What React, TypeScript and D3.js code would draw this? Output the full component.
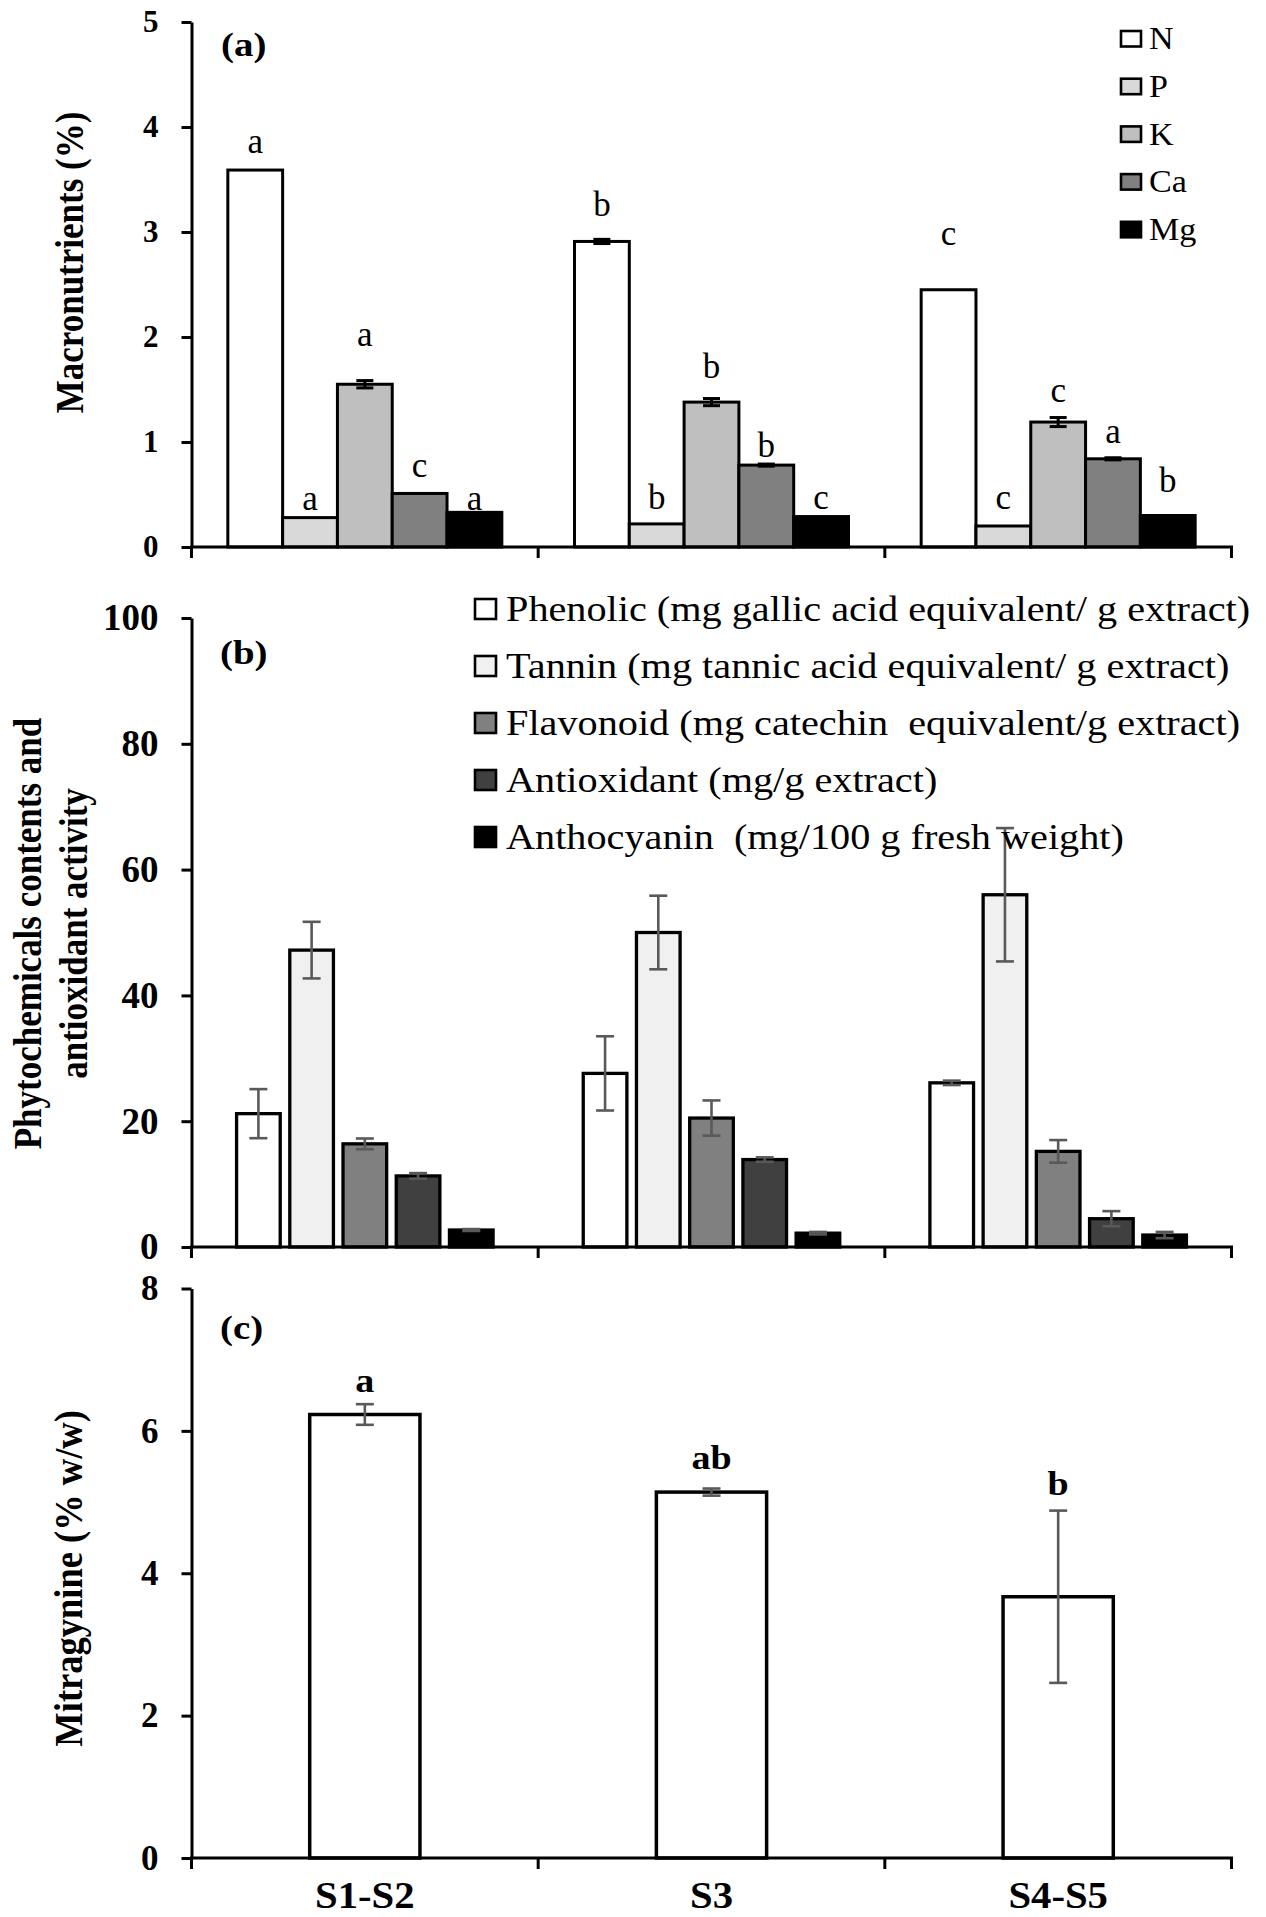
import React, { useRef, useEffect } from "react";
import * as d3 from "d3";

const categories = ["S1-S2", "S3", "S4-S5"];

// (a) macronutrients (%)
const nutrientNames = ["N", "P", "K", "Ca", "Mg"];
const nValues = [3.59, 2.91, 2.45];
const pValues = [0.28, 0.22, 0.2];
const kValues = [1.55, 1.38, 1.19];
const caValues = [0.51, 0.78, 0.84];
const mgValues = [0.33, 0.29, 0.3];
const nErrors = [0, 0.02, 0];
const pErrors = [0, 0, 0];
const kErrors = [0.035, 0.034, 0.043];
const caErrors = [0, 0.01, 0.01];
const mgErrors = [0, 0, 0];
const nLetters = ["a", "b", "c"];
const pLetters = ["a", "b", "c"];
const kLetters = ["a", "b", "c"];
const caLetters = ["c", "b", "a"];
const mgLetters = ["a", "c", "b"];
// height (in %) where each letter sits
const nLetterAt = [3.75, 3.15, 2.88];
const pLetterAt = [0.35, 0.36, 0.36];
const kLetterAt = [1.91, 1.61, 1.38];
const caLetterAt = [0.67, 0.86, 0.99];
const mgLetterAt = [0.35, 0.36, 0.52];
const macroTicks = [0, 1, 2, 3, 4, 5];

// (b) phytochemicals and antioxidant activity
const phytoNames = [
  "Phenolic (mg gallic acid equivalent/ g extract)",
  "Tannin (mg tannic acid equivalent/ g extract)",
  "Flavonoid (mg catechin  equivalent/g extract)",
  "Antioxidant (mg/g extract)",
  "Anthocyanin  (mg/100 g fresh weight)",
];
const phenolicValues = [21.2, 27.6, 26.1];
const tanninValues = [47.2, 50.0, 56.0];
const flavonoidValues = [16.4, 20.5, 15.2];
const antioxidantValues = [11.3, 13.9, 4.5];
const anthocyaninValues = [2.7, 2.2, 1.9];
const phenolicErrors = [3.9, 5.9, 0.35];
const tanninErrors = [4.5, 5.85, 10.6];
const flavonoidErrors = [0.85, 2.8, 1.8];
const antioxidantErrors = [0.45, 0.35, 1.2];
const anthocyaninErrors = [0.15, 0.2, 0.5];
const phytoTicks = [0, 20, 40, 60, 80, 100];

// (c) mitragynine (% w/w)
const mitragynineValues = [6.23, 5.14, 3.67];
const mitragynineErrors = [0.145, 0.05, 1.21];
const mitragynineLetters = ["a", "ab", "b"];
const mitragynineLetterAt = [6.55, 5.46, 5.1];
const mitraTicks = [0, 2, 4, 6, 8];

const FONT = "'Liberation Serif', 'Times New Roman', Times, serif";

function App() {
  const ref = useRef<SVGSVGElement | null>(null);

  useEffect(() => {
    const svg = d3.select(ref.current);
    svg.selectAll("*").remove();

    const xLeft = 191.5;
    const xRight = 1231.5;
    const xCat = d3.scaleBand().domain(categories).range([xLeft, xRight]).padding(0);
    const bw = xCat.bandwidth();

    // text helper, sx stretches glyphs horizontally like the source figure
    const addText = (
      x: number,
      y: number,
      str: string,
      size: number,
      opts: { bold?: boolean; sx?: number; anchor?: string; rotate?: number } = {}
    ) => {
      let tf = `translate(${x},${y}) scale(${opts.sx ?? 1},1)`;
      if (opts.rotate) tf += ` rotate(${opts.rotate})`;
      return svg
        .append("text")
        .attr("transform", tf)
        .attr("font-family", FONT)
        .attr("font-size", size)
        .attr("font-weight", opts.bold ? "bold" : "normal")
        .attr("text-anchor", opts.anchor ?? "start")
        .attr("fill", "#000")
        .style("white-space", "pre")
        .text(str);
    };

    const drawAxes = (y: d3.ScaleLinear<number, number>, ticks: number[], tickFont: number) => {
      const g = svg.append("g").attr("transform", `translate(${xLeft},0)`);
      g.call(
        d3.axisLeft(y).tickValues(ticks).tickSize(10).tickSizeOuter(0).tickPadding(23).tickFormat(d3.format("d"))
      );
      g.select(".domain").attr("stroke", "#000").attr("stroke-width", 3);
      g.selectAll(".tick line").attr("stroke", "#000").attr("stroke-width", 3);
      g.selectAll(".tick text")
        .attr("font-family", FONT)
        .attr("font-size", tickFont)
        .attr("font-weight", "bold")
        .attr("fill", "#000");

      const y0 = y(0);
      svg
        .append("line")
        .attr("x1", xLeft - 1.5)
        .attr("x2", xRight + 1.5)
        .attr("y1", y0)
        .attr("y2", y0)
        .attr("stroke", "#000")
        .attr("stroke-width", 3);
      const bounds = [...categories.map((c) => xCat(c) as number), xRight];
      svg
        .selectAll(null)
        .data(bounds)
        .enter()
        .append("line")
        .attr("x1", (d) => d)
        .attr("x2", (d) => d)
        .attr("y1", y0)
        .attr("y2", y0 + 11)
        .attr("stroke", "#000")
        .attr("stroke-width", 3);
    };

    const drawErrors = (
      cx: number,
      v: number,
      e: number,
      y: d3.ScaleLinear<number, number>,
      color: string,
      width: number,
      cap: number
    ) => {
      if (!e) return;
      const g = svg.append("g").attr("stroke", color).attr("stroke-width", width);
      g.append("line").attr("x1", cx).attr("x2", cx).attr("y1", y(v - e)).attr("y2", y(v + e));
      [v - e, v + e].forEach((t) => {
        g.append("line")
          .attr("x1", cx - cap)
          .attr("x2", cx + cap)
          .attr("y1", y(t))
          .attr("y2", y(t));
      });
    };

    // ---------- (a) ----------
    const yA = d3.scaleLinear().domain([0, 5]).range([547, 22]);
    const xA = d3.scaleBand().domain(nutrientNames).range([0, bw]).paddingInner(0).paddingOuter(0.663);
    const nutrientSeries = [
      { values: nValues, errors: nErrors, letters: nLetters, at: nLetterAt, fill: "#ffffff" },
      { values: pValues, errors: pErrors, letters: pLetters, at: pLetterAt, fill: "#d9d9d9" },
      { values: kValues, errors: kErrors, letters: kLetters, at: kLetterAt, fill: "#bfbfbf" },
      { values: caValues, errors: caErrors, letters: caLetters, at: caLetterAt, fill: "#808080" },
      { values: mgValues, errors: mgErrors, letters: mgLetters, at: mgLetterAt, fill: "#000000" },
    ];
    nutrientSeries.forEach((s, si) => {
      categories.forEach((c, ci) => {
        const x = (xCat(c) as number) + (xA(nutrientNames[si]) as number);
        svg
          .append("rect")
          .attr("x", x)
          .attr("y", yA(s.values[ci]))
          .attr("width", xA.bandwidth())
          .attr("height", yA(0) - yA(s.values[ci]))
          .attr("fill", s.fill)
          .attr("stroke", "#000")
          .attr("stroke-width", 3);
      });
    });
    nutrientSeries.forEach((s, si) => {
      categories.forEach((c, ci) => {
        const cx = (xCat(c) as number) + (xA(nutrientNames[si]) as number) + xA.bandwidth() / 2;
        drawErrors(cx, s.values[ci], s.errors[ci], yA, "#000", 3, 8.5);
        addText(cx, yA(s.at[ci]), s.letters[ci], 35, { anchor: "middle" });
      });
    });
    drawAxes(yA, macroTicks, 31);
    addText(221, 56, "(a)", 33, { bold: true, sx: 1.18 });
    addText(83, 262.5, "Macronutrients (%)", 35, { bold: true, sx: 1.15, anchor: "middle", rotate: -90 });

    // legend (a)
    nutrientSeries.forEach((s, i) => {
      const base = 49.3 + i * 47.7;
      svg
        .append("rect")
        .attr("x", 1121)
        .attr("y", base - 18.3)
        .attr("width", 20)
        .attr("height", 15.5)
        .attr("fill", s.fill)
        .attr("stroke", "#000")
        .attr("stroke-width", 2.6);
      addText(1149, base, nutrientNames[i], 31, { sx: 1.1 });
    });

    // ---------- (b) ----------
    const yB = d3.scaleLinear().domain([0, 100]).range([1247, 618]);
    const xB = d3.scaleBand().domain(phytoNames).range([0, bw]).paddingInner(0.18).paddingOuter(0.847);
    const phytoSeries = [
      { values: phenolicValues, errors: phenolicErrors, fill: "#ffffff" },
      { values: tanninValues, errors: tanninErrors, fill: "#f0f0f0" },
      { values: flavonoidValues, errors: flavonoidErrors, fill: "#808080" },
      { values: antioxidantValues, errors: antioxidantErrors, fill: "#404040" },
      { values: anthocyaninValues, errors: anthocyaninErrors, fill: "#000000" },
    ];
    phytoSeries.forEach((s, si) => {
      categories.forEach((c, ci) => {
        const x = (xCat(c) as number) + (xB(phytoNames[si]) as number);
        svg
          .append("rect")
          .attr("x", x)
          .attr("y", yB(s.values[ci]))
          .attr("width", xB.bandwidth())
          .attr("height", yB(0) - yB(s.values[ci]))
          .attr("fill", s.fill)
          .attr("stroke", "#000")
          .attr("stroke-width", 3.3);
      });
    });
    phytoSeries.forEach((s, si) => {
      categories.forEach((c, ci) => {
        const cx = (xCat(c) as number) + (xB(phytoNames[si]) as number) + xB.bandwidth() / 2;
        drawErrors(cx, s.values[ci], s.errors[ci], yB, "#595959", 2.6, 9);
      });
    });
    drawAxes(yB, phytoTicks, 37);
    addText(220, 664, "(b)", 33, { bold: true, sx: 1.18 });
    addText(41, 933.5, "Phytochemicals contents and", 35, { bold: true, sx: 1.15, anchor: "middle", rotate: -90 });
    addText(87, 933.5, "antioxidant activity", 35, { bold: true, sx: 1.15, anchor: "middle", rotate: -90 });

    // legend (b)
    phytoSeries.forEach((s, i) => {
      const base = 621 + i * 57;
      svg
        .append("rect")
        .attr("x", 475)
        .attr("y", base - 22)
        .attr("width", 21)
        .attr("height", 20)
        .attr("fill", s.fill)
        .attr("stroke", "#000")
        .attr("stroke-width", 2.6);
      addText(506, base, phytoNames[i], 35, { sx: 1.15 });
    });

    // ---------- (c) ----------
    const yC = d3.scaleLinear().domain([0, 8]).range([1858, 1288.5]);
    const barW = bw * 0.318;
    categories.forEach((c, ci) => {
      const cx = (xCat(c) as number) + bw / 2;
      svg
        .append("rect")
        .attr("x", cx - barW / 2)
        .attr("y", yC(mitragynineValues[ci]))
        .attr("width", barW)
        .attr("height", yC(0) - yC(mitragynineValues[ci]))
        .attr("fill", "#fff")
        .attr("stroke", "#000")
        .attr("stroke-width", 3.5);
    });
    categories.forEach((c, ci) => {
      const cx = (xCat(c) as number) + bw / 2;
      drawErrors(cx, mitragynineValues[ci], mitragynineErrors[ci], yC, "#595959", 2.6, 9);
      addText(cx, yC(mitragynineLetterAt[ci]), mitragynineLetters[ci], 34, { bold: true, sx: 1.12, anchor: "middle" });
      addText(cx, 1908, c, 37, { bold: true, sx: 1.1, anchor: "middle" });
    });
    drawAxes(yC, mitraTicks, 35);
    addText(220, 1339, "(c)", 33, { bold: true, sx: 1.18 });
    addText(81.6, 1578.4, "Mitragynine (% w/w)", 36.5, { bold: true, sx: 1.12, anchor: "middle", rotate: -90 });
  }, []);

  return (
    <svg
      ref={ref}
      width={1266}
      height={1917}
      style={{ position: "absolute", left: 0, top: 0, background: "#fff" }}
    ></svg>
  );
}

export default App;
